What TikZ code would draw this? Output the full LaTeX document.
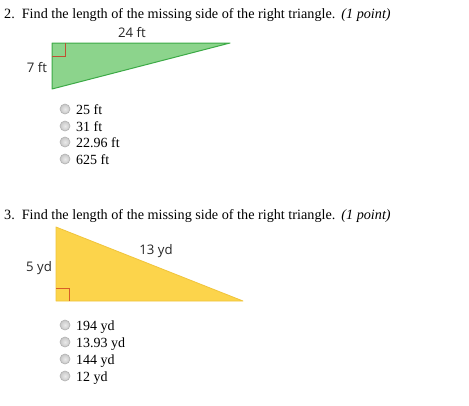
\documentclass[tikz,border=0pt]{standalone}
\usepackage{fontspec}
\setmainfont{Liberation Serif}
\newfontfamily\lblfont{Open Sans}
\definecolor{gfill}{RGB}{140,212,140}
\definecolor{gline}{RGB}{60,170,70}
\definecolor{yfill}{RGB}{252,212,75}
\definecolor{yline}{RGB}{240,196,60}
\definecolor{rmark1}{RGB}{190,80,50}
\definecolor{rmark2}{RGB}{215,95,40}
\tikzset{
  qtext/.style={anchor=base west, inner sep=0pt, font=\fontsize{14.2}{17}\selectfont},
  opttext/.style={anchor=base west, inner sep=0pt, font=\fontsize{14}{16}\selectfont},
  lbl/.style={inner sep=0pt, font=\lblfont\fontsize{13.2}{15}\selectfont, text=black!85},
  radio/.style={circle, minimum size=10pt, inner sep=0pt, draw=black!30, line width=0.6pt, shading=radial, inner color=black!8, outer color=black!22},
  rmark/.style={line width=1pt},
}
\begin{document}
\begin{tikzpicture}[x=1pt,y=-1pt]
\useasboundingbox[fill=white] (0,0) rectangle (469,405);
% Question 2
\node[qtext] (q2) at (4,18) {2.\hspace{7pt}Find the length of the missing side of the right triangle.\hspace{6pt}\textit{(1 point)}};
\coordinate (a1) at (52,43);
\coordinate (b1) at (230,43);
\coordinate (c1) at (52,89);
\fill[gfill] (a1) -- (b1) -- (c1) -- cycle;
\draw[gline, line width=1pt, line join=round] (a1) -- (b1) -- (c1) -- cycle;
\draw[rmark, rmark1] (52,56) -- (65,56) -- (65,43);
\node[lbl] (l24) at (132,33) {24 ft};
\node[lbl] (l7) at (37,68) {7 ft};
\node[radio] (r1) at (65,109) {};
\node[radio] (r2) at (65,126) {};
\node[radio] (r3) at (65,142) {};
\node[radio] (r4) at (65,159) {};
\node[opttext] (o1) at (76,114) {25 ft};
\node[opttext] (o2) at (76,131) {31 ft};
\node[opttext] (o3) at (76,147) {22.96 ft};
\node[opttext] (o4) at (76,164) {625 ft};
% Question 3
\node[qtext] (q3) at (4,219) {3.\hspace{7pt}Find the length of the missing side of the right triangle.\hspace{6pt}\textit{(1 point)}};
\coordinate (a2) at (56,227);
\coordinate (b2) at (56,301);
\coordinate (c2) at (243,301);
\fill[yfill] (a2) -- (b2) -- (c2) -- cycle;
\draw[yline, line width=0.8pt, line join=round] (a2) -- (b2) -- (c2) -- cycle;
\draw[rmark, rmark2] (56,288) -- (69,288) -- (69,301);
\node[lbl] (l13) at (156,251) {13 yd};
\node[lbl] (l5) at (39,268) {5 yd};
\node[radio] (s1) at (65,325) {};
\node[radio] (s2) at (65,342) {};
\node[radio] (s3) at (65,359) {};
\node[radio] (s4) at (65,376) {};
\node[opttext] (p1) at (76,330) {194 yd};
\node[opttext] (p2) at (76,347) {13.93 yd};
\node[opttext] (p3) at (76,364) {144 yd};
\node[opttext] (p4) at (76,381) {12 yd};
\end{tikzpicture}
\end{document}
